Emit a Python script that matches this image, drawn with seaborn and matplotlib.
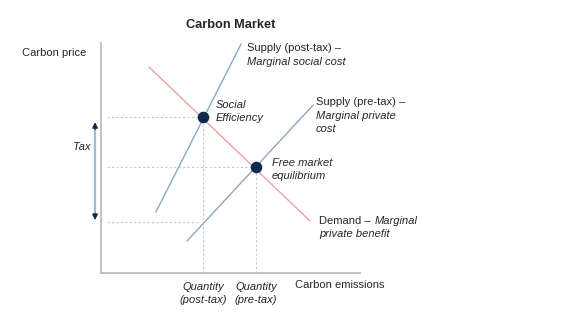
import matplotlib
matplotlib.use("Agg")
import matplotlib.pyplot as plt
import seaborn as sns
import pandas as pd

sns.set_theme(style="white")
plt.rcParams['font.family'] = ['Liberation Sans', 'DejaVu Sans']

# Data (quantity, price) in arbitrary units
supply_post_q = [2.12, 5.41]
supply_post_p = [2.65, 9.96]
supply_pre_q = [3.32, 8.19]
supply_pre_p = [1.39, 7.30]
demand_q = [1.85, 8.07]
demand_p = [8.96, 2.26]
eq_names = ["Social efficiency", "Free market"]
eq_q = [3.94, 5.98]
eq_p = [6.78, 4.61]
tax_low_p = 2.22

BLUE = "#8ea6c2"
PINK = "#e8a3a6"
NAVY = "#10294d"
DASH = "#c8c8c8"
SPINE = "#b8b8b8"

fig = plt.figure(figsize=(5.77, 3.21), dpi=100)
ax = fig.add_axes([101/577, 48/321, 259/577, 230/321])
ax.set_xlim(0, 10)
ax.set_ylim(0, 10)

# dashed guides
ax.plot([0.23, eq_q[0]], [eq_p[0], eq_p[0]], ls=(0, (2, 2)), color=DASH, lw=0.8)
ax.plot([0.23, eq_q[1]], [eq_p[1], eq_p[1]], ls=(0, (2, 2)), color=DASH, lw=0.8)
ax.plot([0.23, 3.75], [tax_low_p, tax_low_p], ls=(0, (2, 2)), color=DASH, lw=0.8)
ax.plot([eq_q[0], eq_q[0]], [0, eq_p[0]], ls=(0, (2, 2)), color=DASH, lw=0.8)
ax.plot([eq_q[1], eq_q[1]], [0, eq_p[1]], ls=(0, (2, 2)), color=DASH, lw=0.8)

df_post = pd.DataFrame({"q": supply_post_q, "p": supply_post_p})
df_pre = pd.DataFrame({"q": supply_pre_q, "p": supply_pre_p})
df_dem = pd.DataFrame({"q": demand_q, "p": demand_p})
sns.lineplot(data=df_post, x="q", y="p", ax=ax, color=BLUE, lw=1.0, sort=False)
sns.lineplot(data=df_pre, x="q", y="p", ax=ax, color=BLUE, lw=1.0, sort=False)
sns.lineplot(data=df_dem, x="q", y="p", ax=ax, color=PINK, lw=1.0, sort=False)

df_eq = pd.DataFrame({"name": eq_names, "q": eq_q, "p": eq_p})
sns.scatterplot(data=df_eq, x="q", y="p", ax=ax, color=NAVY, s=70, zorder=5, edgecolor=NAVY, linewidth=0)

# axes styling
for side in ["top", "right"]:
    ax.spines[side].set_visible(False)
for side in ["left", "bottom"]:
    ax.spines[side].set_color(SPINE)
    ax.spines[side].set_linewidth(1.2)
ax.set_xticks([])
ax.set_yticks([])
ax.set_xlabel("")
ax.set_ylabel("")

# tax arrow
ax.annotate("", xy=(-0.23, eq_p[0] - 0.22), xytext=(-0.23, tax_low_p + 0.08),
            xycoords="data", textcoords="data",
            arrowprops=dict(arrowstyle="<|-|>", color=NAVY, lw=1.0, mutation_scale=8,
                            shrinkA=0, shrinkB=0),
            annotation_clip=False)
ax.plot([-0.23, -0.23], [tax_low_p + 0.4, eq_p[0] - 0.55], color="#9dbad6", lw=1.6,
        clip_on=False, zorder=4, solid_capstyle="butt")

fs = 8
fig.text(231/577, 1 - 25/321, "Carbon Market", ha="center", va="center",
         fontsize=9.2, fontweight="bold")
fig.text(22/577, 1 - 53/321, "Carbon price", ha="left", va="center", fontsize=fs)
fig.text(91/577, 1 - 147/321, "Tax", ha="right", va="center", fontsize=fs, style="italic")
fig.text(295/577, 1 - 285/321, "Carbon emissions", ha="left", va="center", fontsize=fs)

fig.text(247/577, 1 - 48/321, "Supply (post-tax) –", ha="left", va="center", fontsize=fs)
fig.text(247/577, 1 - 62/321, "Marginal social cost", ha="left", va="center", fontsize=fs, style="italic")
fig.text(216/577, 1 - 105/321, "Social", ha="left", va="center", fontsize=fs, style="italic")
fig.text(216/577, 1 - 118/321, "Efficiency", ha="left", va="center", fontsize=fs, style="italic")
fig.text(316/577, 1 - 102/321, "Supply (pre-tax) –", ha="left", va="center", fontsize=fs)
fig.text(316/577, 1 - 116/321, "Marginal private", ha="left", va="center", fontsize=fs, style="italic")
fig.text(316/577, 1 - 129/321, "cost", ha="left", va="center", fontsize=fs, style="italic")
fig.text(272/577, 1 - 163/321, "Free market", ha="left", va="center", fontsize=fs, style="italic")
fig.text(272/577, 1 - 176/321, "equilibrium", ha="left", va="center", fontsize=fs, style="italic")
fig.text(319/577, 1 - 221/321, "Demand –", ha="left", va="center", fontsize=fs)
fig.text(375/577, 1 - 221/321, "Marginal", ha="left", va="center", fontsize=fs, style="italic")
fig.text(319/577, 1 - 234/321, "private benefit", ha="left", va="center", fontsize=fs, style="italic")

fig.text(203/577, 1 - 287/321, "Quantity", ha="center", va="center", fontsize=fs, style="italic")
fig.text(203/577, 1 - 300/321, "(post-tax)", ha="center", va="center", fontsize=fs, style="italic")
fig.text(256/577, 1 - 287/321, "Quantity", ha="center", va="center", fontsize=fs, style="italic")
fig.text(256/577, 1 - 300/321, "(pre-tax)", ha="center", va="center", fontsize=fs, style="italic")

fig.savefig("out.png", dpi=100)
